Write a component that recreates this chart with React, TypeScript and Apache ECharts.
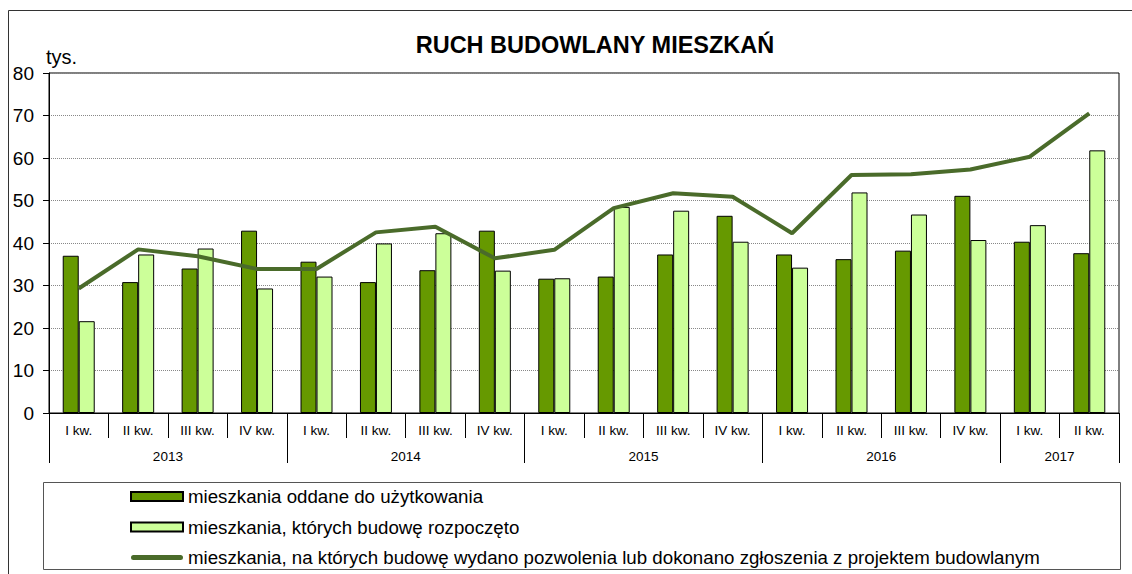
import React, { useEffect, useRef } from "react";
import * as echarts from "echarts";

const quarters = [
  "I kw.", "II kw.", "III kw.", "IV kw.",
  "I kw.", "II kw.", "III kw.", "IV kw.",
  "I kw.", "II kw.", "III kw.", "IV kw.",
  "I kw.", "II kw.", "III kw.", "IV kw.",
  "I kw.", "II kw.",
];
const years = ["2013", "2014", "2015", "2016", "2017"];
const quartersPerYear = [4, 4, 4, 4, 2];

const completed = [37.0, 30.8, 34.0, 42.9, 35.6, 30.8, 33.6, 42.9, 31.6, 32.1, 37.3, 46.4, 37.3, 36.2, 38.2, 51.1, 40.3, 37.6];
const started = [21.6, 37.3, 38.7, 29.3, 32.1, 39.9, 42.3, 33.5, 31.7, 48.5, 47.6, 40.3, 34.2, 51.9, 46.7, 40.7, 44.2, 61.8];
const permits = [29.3, 38.5, 36.9, 33.9, 33.9, 42.5, 43.8, 36.4, 38.4, 48.2, 51.7, 50.9, 42.3, 56.0, 56.2, 57.3, 60.3, 70.5];

const seriesNames = [
  "mieszkania oddane do użytkowania",
  "mieszkania, których budowę rozpoczęto",
  "mieszkania, na których budowę wydano pozwolenia lub dokonano zgłoszenia z projektem budowlanym",
];

// year axis built on half-quarter points (boundaryGap false)
const yearAxisData: string[] = [];
const yearBoundaries = new Set<number>();
const yearCenters = new Set<number>();
{
  let pos = 0;
  yearBoundaries.add(0);
  quartersPerYear.forEach((n) => {
    yearCenters.add(pos + n);
    pos += n * 2;
    yearBoundaries.add(pos);
  });
  const total = pos;
  let yi = 0;
  for (let i = 0; i <= total; i++) {
    if (yearCenters.has(i)) {
      yearAxisData.push(years[yi]);
      yi++;
    } else {
      yearAxisData.push("");
    }
  }
}

const FONT = "Liberation Sans, Arial, sans-serif";

export default function App() {
  const ref = useRef<HTMLDivElement>(null);
  useEffect(() => {
    if (!ref.current) return;
    const chart = echarts.init(ref.current, undefined, { renderer: "svg" });
    chart.setOption({
      animation: false,
      backgroundColor: "#ffffff",
      textStyle: { fontFamily: FONT },
      grid: {
        left: 49,
        right: 13,
        top: 73,
        bottom: 161,
        show: true,
        borderColor: "#000",
        borderWidth: 1,
        backgroundColor: "transparent",
      },
      legend: {
        orient: "vertical",
        left: 130,
        top: 487,
        padding: 0,
        itemWidth: 52,
        itemHeight: 9,
        itemGap: 11.5,
        textStyle: { fontSize: 18.7, color: "#000", fontFamily: FONT },
        data: [
          { name: seriesNames[0], icon: "rect" },
          { name: seriesNames[1], icon: "rect" },
          {
            name: seriesNames[2],
            icon: "path://M2.5,0 L49.5,0 A2.5,2.5 0 0 1 49.5,5 L2.5,5 A2.5,2.5 0 0 1 2.5,0 Z",
          },
        ],
      },
      xAxis: [
        {
          type: "category",
          data: quarters,
          position: "bottom",
          axisLine: { show: true, lineStyle: { color: "#000", width: 1 } },
          axisTick: { show: true, interval: 0, length: 25, lineStyle: { color: "#000" } },
          axisLabel: { interval: 0, fontSize: 13.5, color: "#000", margin: 10, fontFamily: FONT },
        },
        {
          type: "category",
          data: yearAxisData,
          position: "bottom",
          boundaryGap: false,
          offset: 0,
          axisLine: { show: false },
          axisTick: {
            show: true,
            length: 50,
            interval: (i: number) => yearBoundaries.has(i),
            lineStyle: { color: "#000" },
          },
          axisLabel: {
            interval: (i: number) => yearCenters.has(i),
            fontSize: 13.5,
            color: "#000",
            margin: 36,
            fontFamily: FONT,
          },
          splitLine: { show: false },
        },
      ],
      yAxis: {
        type: "value",
        min: 0,
        max: 80,
        interval: 10,
        axisLine: { show: true, lineStyle: { color: "#000" } },
        axisTick: { show: true, length: 6, lineStyle: { color: "#000" } },
        axisLabel: { fontSize: 19, color: "#000", margin: 15, fontFamily: FONT },
        splitLine: { show: true, lineStyle: { color: "#888", type: "dotted", width: 1 } },
      },
      series: [
        {
          name: seriesNames[0],
          type: "bar",
          data: completed,
          barWidth: 16,
          barGap: "0%",
          itemStyle: { color: "#669900", borderColor: "#000", borderWidth: 1 },
        },
        {
          name: seriesNames[1],
          type: "bar",
          data: started,
          barWidth: 16,
          barGap: "0%",
          itemStyle: { color: "#ccff99", borderColor: "#000", borderWidth: 1 },
        },
        {
          name: seriesNames[2],
          type: "line",
          data: permits,
          symbol: "none",
          itemStyle: { color: "#4a6b2a" },
          lineStyle: { color: "#4a6b2a", width: 4 },
          z: 5,
        },
      ],
      graphic: [
        {
          type: "line",
          shape: { x1: 8.5, y1: 10.5, x2: 1132, y2: 10.5 },
          style: { stroke: "#333", lineWidth: 1 },
        },
        {
          type: "line",
          shape: { x1: 8.5, y1: 10.5, x2: 8.5, y2: 574 },
          style: { stroke: "#333", lineWidth: 1 },
        },
        {
          type: "rect",
          shape: { x: 43.5, y: 482.5, width: 1077, height: 87 },
          style: { fill: "none", stroke: "#555", lineWidth: 1 },
          z: -1,
        },
        {
          type: "text",
          x: 595,
          y: 45,
          style: {
            text: "RUCH BUDOWLANY MIESZKAŃ",
            font: "bold 23.5px " + FONT,
            fill: "#000",
            align: "center",
            verticalAlign: "middle",
          },
        },
        {
          type: "text",
          x: 46,
          y: 57,
          style: {
            text: "tys.",
            font: "20px " + FONT,
            fill: "#000",
            align: "left",
            verticalAlign: "middle",
          },
        },
      ],
    });
    return () => chart.dispose();
  }, []);
  return (
    <div
      ref={ref}
      style={{ position: "fixed", left: 0, top: 0, width: 1132, height: 574 }}
    />
  );
}
